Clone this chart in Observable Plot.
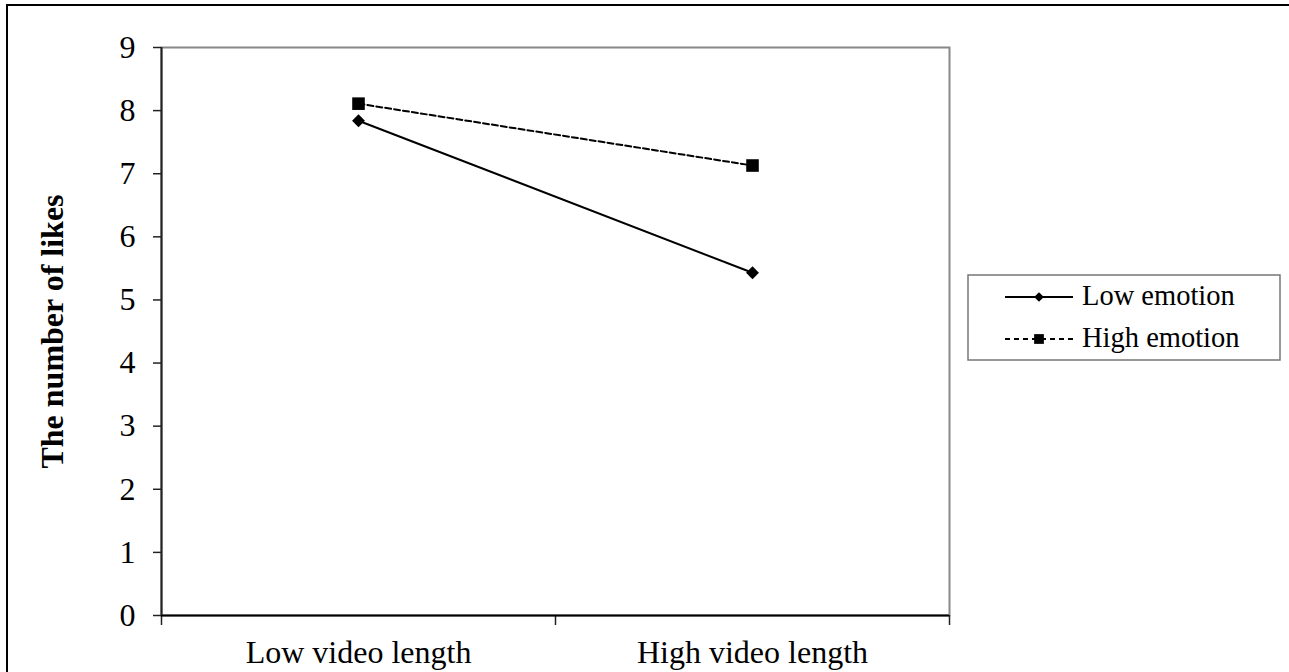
<!DOCTYPE html>
<html><head><meta charset="utf-8">
<script src="https://cdn.jsdelivr.net/npm/d3@7"></script>
<script src="https://cdn.jsdelivr.net/npm/@observablehq/plot@0.6"></script>
<style>
html,body{margin:0;padding:0;background:#fff;overflow:hidden;width:1289px;height:672px;}
#frame{position:absolute;left:6px;top:4px;width:1400px;height:800px;border-left:2px solid #000;border-top:2px solid #000;}
#chart{position:absolute;left:0;top:0;}
#legend{position:absolute;left:967px;top:274px;}
</style></head><body>
<div id="frame"></div><div id="chart"></div><div id="legend"></div>
<script>
const categories = ["Low video length", "High video length"];
const seriesNames = ["Low emotion", "High emotion"];
const lowEmotion = [7.84, 5.43];
const highEmotion = [8.11, 7.13];
const yTicks = [0, 1, 2, 3, 4, 5, 6, 7, 8, 9];
const xBoundaries = [0, 1, 2];
const yLabel = "The number of likes";

const font = "'Liberation Serif','Times New Roman',serif";
const lowRows = categories.map((c, i) => ({x: i + 0.5, y: lowEmotion[i], series: seriesNames[0]}));
const highRows = categories.map((c, i) => ({x: i + 0.5, y: highEmotion[i], series: seriesNames[1]}));

const chart = Plot.plot({
  width: 960, height: 672,
  marginLeft: 161, marginTop: 47, marginRight: 11, marginBottom: 57,
  style: {fontFamily: font, fontSize: "32px", background: "transparent", color: "#000"},
  x: {domain: [0, 2]},
  y: {domain: [0, 9]},
  marks: [
    Plot.frame({stroke: "#888", strokeWidth: 2}),
    Plot.axisY({ticks: yTicks, tickSize: 8, tickPadding: 18, tickFormat: d => String(d), label: null, stroke: "#222", strokeWidth: 1.5}),
    Plot.axisX({ticks: xBoundaries, tickSize: 10, tickFormat: () => "", label: null, stroke: "#222", strokeWidth: 1.5}),
    Plot.axisX({ticks: [0.5, 1.5], tickSize: 0, tickPadding: 25, tickFormat: d => categories[Math.floor(d)], label: null}),
    Plot.ruleY([0], {stroke: "#000", strokeWidth: 2}),
    Plot.ruleX([0], {stroke: "#222", strokeWidth: 2}),
    Plot.text([yLabel], {text: d => d, frameAnchor: "left", textAnchor: "middle", rotate: -90, dx: -109, fontWeight: "bold", fill: "#000", fontSize: 32}),
    Plot.line(lowRows, {x: "x", y: "y", stroke: "#000", strokeWidth: 2}),
    Plot.line(highRows, {x: "x", y: "y", stroke: "#000", strokeWidth: 2, strokeDasharray: "6,3"}),
    Plot.dot(lowRows, {x: "x", y: "y", symbol: "diamond2", r: 5.8, fill: "#000", stroke: "none"}),
    Plot.dot(highRows, {x: "x", y: "y", symbol: "square", r: 7.1, fill: "#000", stroke: "none"})
  ]
});
document.getElementById("chart").appendChild(chart);

// Legend
const legendItems = [
  {name: seriesNames[0], dash: null, symbol: d3.symbolDiamond2, size: 60},
  {name: seriesNames[1], dash: "5,4", symbol: d3.symbolSquare, size: 95}
];
const lw = 314, lh = 87;
const lsvg = d3.select("#legend").append("svg").attr("width", lw).attr("height", lh)
  .style("font-family", font);
lsvg.append("rect").attr("x", 1).attr("y", 1).attr("width", lw - 2).attr("height", lh - 2)
  .attr("fill", "#fff").attr("stroke", "#777").attr("stroke-width", 1.5);
const rowY = d3.scalePoint().domain(seriesNames).range([23, 65]);
legendItems.forEach(it => {
  const y = rowY(it.name);
  lsvg.append("line").attr("x1", 38).attr("x2", 106).attr("y1", y).attr("y2", y)
    .attr("stroke", "#000").attr("stroke-width", 2).attr("stroke-dasharray", it.dash);
  lsvg.append("path").attr("d", d3.symbol(it.symbol, it.size)()).attr("transform", `translate(72,${y})`).attr("fill", "#000");
  lsvg.append("text").attr("x", 115).attr("y", y + 8).text(it.name)
    .attr("font-size", 28.5).attr("fill", "#000").style("font-family", font);
});
</script>
</body></html>
